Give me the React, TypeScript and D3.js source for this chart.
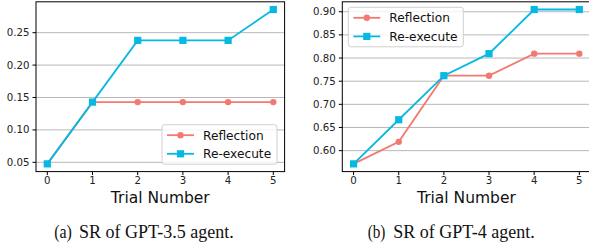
import React, {JSX} from "react";
import * as d3 from "d3";

const trials = [0, 1, 2, 3, 4, 5];
const gpt35Reflection = [0.0476, 0.1429, 0.1429, 0.1429, 0.1429, 0.1429];
const gpt35Reexecute = [0.0476, 0.1429, 0.2381, 0.2381, 0.2381, 0.2857];
const gpt4Reflection = [0.5714, 0.619, 0.7619, 0.7619, 0.8095, 0.8095];
const gpt4Reexecute = [0.5714, 0.6667, 0.7619, 0.8095, 0.9048, 0.9048];
const gpt35Ticks = [0.05, 0.1, 0.15, 0.2, 0.25];
const gpt4Ticks = [0.6, 0.65, 0.7, 0.75, 0.8, 0.85, 0.9];
const seriesNames = ["Reflection", "Re-execute"];
const seriesColors = ["#F27970", "#05B9E2"];

const sans = "DejaVu Sans";
const top = 1.8;
const bottom = 171.6;

type PanelProps = {
    left: number
    right: number
    reflection: number[]
    reexecute: number[]
    yTicks: number[]
    legendX: number
    legendY: number
    tag: string
    caption: string
    tagX: number
    captionX: number
}

const Panel = (p: PanelProps): JSX.Element => {
    const x = d3.scaleLinear([-0.25, 5.25], [p.left, p.right]);
    const all = p.reflection.concat(p.reexecute);
    const [lo, hi] = d3.extent(all) as [number, number];
    const pad = (hi - lo) * 0.05;
    const y = d3.scaleLinear([lo - pad, hi + pad], [bottom, top]);
    const line = d3.line<number>((d, i) => x(trials[i]), d => y(d));
    const series = [p.reflection, p.reexecute];
    const legW = 115, legH = 39.5;

    return (
        <g>
            <g stroke="#b8b8b8" strokeWidth={1}>
                {p.yTicks.map(t => (
                    <line key={t} x1={p.left} x2={p.right} y1={y(t)} y2={y(t)}/>
                ))}
            </g>
            {series.map((s, k) => (
                <g key={k}>
                    <path d={line(s) as string} fill="none" stroke={seriesColors[k]} strokeWidth={1.8}/>
                    {s.map((d, i) => k === 0
                        ? <circle key={i} cx={x(trials[i])} cy={y(d)} r={3.2} fill={seriesColors[k]}/>
                        : <rect key={i} x={x(trials[i]) - 3.6} y={y(d) - 3.6} width={7.2} height={7.2} fill={seriesColors[k]}/>
                    )}
                </g>
            ))}
            <rect x={p.left} y={top} width={p.right - p.left} height={bottom - top} fill="none" stroke="#000" strokeWidth={1}/>
            {p.yTicks.map(t => (
                <g key={t}>
                    <line x1={p.left - 3.5} x2={p.left} y1={y(t)} y2={y(t)} stroke="#000"/>
                    <text x={p.left - 6.5} y={y(t)} dy="0.35em" textAnchor="end" fontFamily={sans} fontSize={10.2} fill="#222">{t.toFixed(2)}</text>
                </g>
            ))}
            {trials.map(t => (
                <g key={t}>
                    <line x1={x(t)} x2={x(t)} y1={bottom} y2={bottom + 3.5} stroke="#000"/>
                    <text x={x(t)} y={bottom + 12.5} textAnchor="middle" fontFamily={sans} fontSize={10.2} fill="#222">{t}</text>
                </g>
            ))}
            <text x={(p.left + p.right) / 2} y={203} textAnchor="middle" fontFamily={sans} fontSize={15.5} fill="#111">Trial Number</text>
            <g>
                <rect x={p.legendX} y={p.legendY} width={legW} height={legH} rx={2.5} fill="#fff" fillOpacity={0.8} stroke="#d0d0d0"/>
                {seriesNames.map((n, k) => {
                    const cy = p.legendY + 10.5 + k * 18.6;
                    const x0 = p.legendX + 5;
                    return (
                        <g key={n}>
                            <line x1={x0} x2={x0 + 27} y1={cy} y2={cy} stroke={seriesColors[k]} strokeWidth={1.8}/>
                            {k === 0
                                ? <circle cx={x0 + 13.5} cy={cy} r={3.2} fill={seriesColors[k]}/>
                                : <rect x={x0 + 13.5 - 3.6} y={cy - 3.6} width={7.2} height={7.2} fill={seriesColors[k]}/>}
                            <text x={p.legendX + 41} y={cy} dy="0.36em" fontFamily={sans} fontSize={12.2} fill="#111">{n}</text>
                        </g>
                    );
                })}
            </g>
            <text y={237.5} fontFamily="Liberation Serif" fontSize={18} fill="#111">
                <tspan x={p.tagX} textLength={17.7} lengthAdjust="spacingAndGlyphs">{p.tag}</tspan>
                <tspan x={p.captionX}>{p.caption}</tspan>
            </text>
        </g>
    );
};

export default function App(): JSX.Element {
    return (
        <svg width={589} height={252} style={{position: "absolute", left: 0, top: 0, background: "#fff"}}>
            <Panel left={36} right={284.6} reflection={gpt35Reflection} reexecute={gpt35Reexecute}
                   yTicks={gpt35Ticks} legendX={162} legendY={124.7}
                   tag="(a)" caption="SR of GPT-3.5 agent." tagX={54.2} captionX={79}/>
            <Panel left={342.3} right={590.6} reflection={gpt4Reflection} reexecute={gpt4Reexecute}
                   yTicks={gpt4Ticks} legendX={348.3} legendY={7.3}
                   tag="(b)" caption="SR of GPT-4 agent." tagX={367.7} captionX={393.3}/>
        </svg>
    );
}
